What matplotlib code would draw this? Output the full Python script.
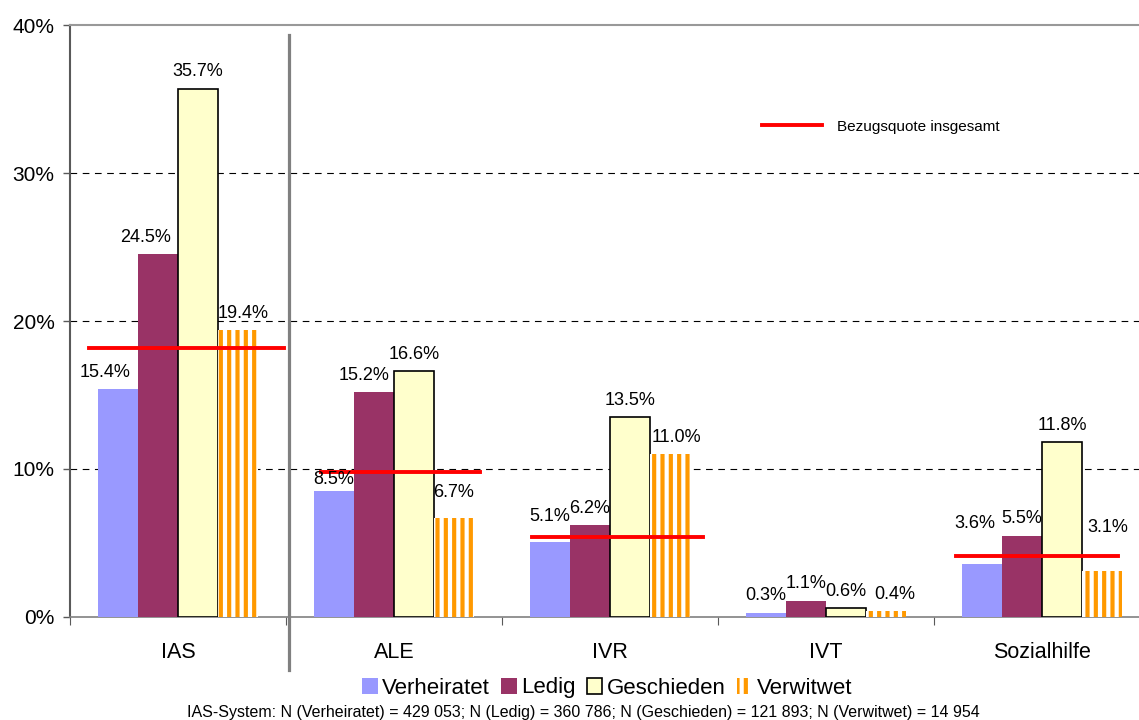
import numpy as np
import matplotlib
matplotlib.use("Agg")
import matplotlib.pyplot as plt
from matplotlib.lines import Line2D

plt.rcParams['font.family'] = ['Liberation Sans', 'DejaVu Sans']
plt.rcParams['hatch.linewidth'] = 3.0

categories = ["IAS", "ALE", "IVR", "IVT", "Sozialhilfe"]
series = ["Verheiratet", "Ledig", "Geschieden", "Verwitwet"]
verheiratet = [15.4, 8.5, 5.1, 0.3, 3.6]
ledig = [24.5, 15.2, 6.2, 1.1, 5.5]
geschieden = [35.7, 16.6, 13.5, 0.6, 11.8]
verwitwet = [19.4, 6.7, 11.0, 0.4, 3.1]
insgesamt = [18.2, 9.8, 5.4, np.nan, 4.1]
footer = ("IAS-System: N (Verheiratet) = 429 053; N (Ledig) = 360 786; "
          "N (Geschieden) = 121 893; N (Verwitwet) = 14 954")

values = [verheiratet, ledig, geschieden, verwitwet]
styles = [
    dict(color="#9999FF", linewidth=0),
    dict(color="#993366", linewidth=0),
    dict(facecolor="#FFFFCC", edgecolor="black", linewidth=1.2),
    dict(facecolor="white", edgecolor="#FF9900", linewidth=0, hatch="||"),
]

# manual label nudges (points), like the hand-moved labels in the original
nudge = {(0, 0): (-9, 0), (0, 1): (-9, 0), (0, 3): (4, 0), (1, 0): (0, -4),
         (1, 1): (-7, 0), (1, 3): (0, 6), (2, 0): (0, 6), (2, 3): (5, 0),
         (3, 3): (6, 0), (4, 0): (-5, 17), (4, 3): (4, 19)}
# horizontal extent of the red total line around each group centre
line_span = [(-0.41, 0.49), (-0.34, 0.40), (-0.36, 0.43), (-0.36, 0.43), (-0.40, 0.35)]

fig = plt.figure(figsize=(11.39, 7.2), dpi=100)
ax = fig.add_axes([70 / 1139, 103 / 720, 1080 / 1139, 592 / 720])

x = np.arange(len(categories))
w = 0.185
handles = []
for i, (name, vals, st) in enumerate(zip(series, values, styles)):
    bars = ax.bar(x + (i - 1.5) * w, vals, w, label=name, zorder=3, **st)
    handles.append(bars)
    for j, b in enumerate(bars):
        dx, dy = nudge.get((j, i), (0, 0))
        ax.annotate(f"{vals[j]:.1f}%", (b.get_x() + b.get_width() / 2, b.get_height()),
                    xytext=(dx, 6 + dy), textcoords="offset points",
                    ha="center", va="bottom", fontsize=13, zorder=5)

# total rate per group
for j, v in enumerate(insgesamt):
    if not np.isnan(v):
        a, b = line_span[j]
        ax.plot([x[j] + a, x[j] + b], [v, v], color="red", lw=2.8, zorder=4)

for g in [10, 20, 30]:
    ax.axhline(g, color="black", lw=0.8, ls=(0, (6, 5)), zorder=1)

ax.set_xlim(-0.5, 4.5)
ax.set_ylim(0, 40)
ax.set_yticks([0, 10, 20, 30, 40])
ax.set_yticklabels([f"{t}%" for t in [0, 10, 20, 30, 40]], fontsize=15)
ax.tick_params(axis="y", length=5, width=1, color="#595959", pad=6)

ax.set_xticks(np.arange(-0.5, 5, 1.0))
ax.set_xticklabels([])
ax.set_xticks(x, minor=True)
ax.set_xticklabels(categories, minor=True, fontsize=15.5)
ax.tick_params(axis="x", which="major", length=6, color="#595959")
ax.tick_params(axis="x", which="minor", length=0, pad=18)

ax.spines["right"].set_visible(False)
ax.spines["left"].set_color("#595959")
ax.spines["left"].set_linewidth(1.5)
ax.spines["bottom"].set_color("#808080")
ax.spines["bottom"].set_linewidth(1.2)
ax.spines["top"].set_color("#999999")
ax.spines["top"].set_linewidth(1.5)

# separator between IAS and the rest
ax.plot([0.514, 0.514], [-0.09, 0.983], transform=ax.get_xaxis_transform(),
        clip_on=False, color="#808080", lw=2.3, zorder=6)

red = Line2D([], [], color="red", lw=2.8)
ax.legend([red], ["Bezugsquote insgesamt"], loc="center",
          bbox_to_anchor=(0.751, 0.828), frameon=False, fontsize=11,
          handlelength=3.9, handletextpad=1.0)

fig.legend(handles, series, loc="center", ncol=4,
           bbox_to_anchor=(607 / 1139, 1 - 688 / 720), frameon=False,
           fontsize=16, handlelength=0.7, handleheight=0.7,
           handletextpad=0.2, columnspacing=0.5, borderpad=0)

fig.text(583 / 1139, 1 - 712 / 720, footer, ha="center", va="center", fontsize=11.5)

fig.savefig("out.png", dpi=100)
